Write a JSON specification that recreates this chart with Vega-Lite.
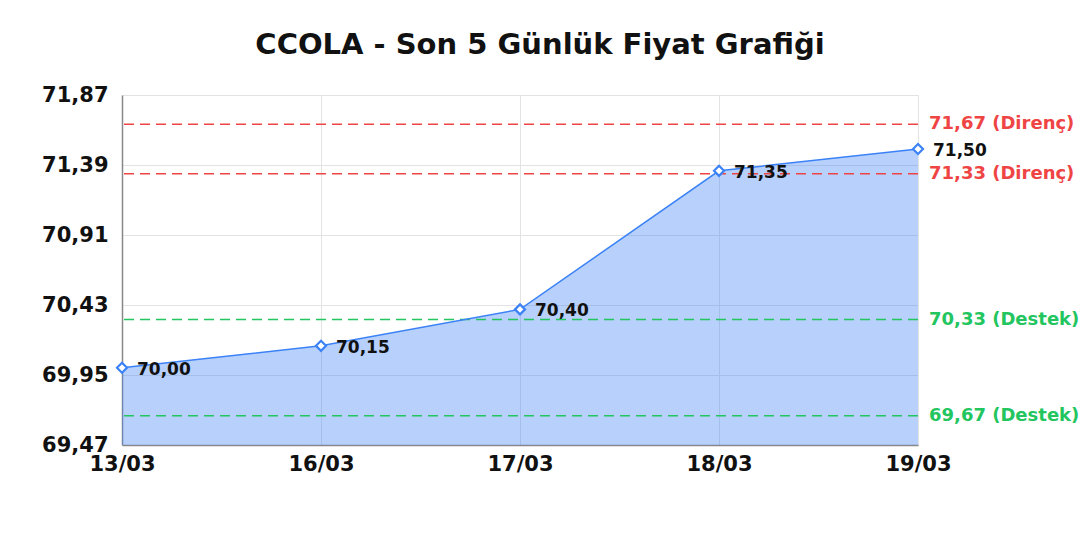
{
  "$schema": "https://vega.github.io/schema/vega-lite/v6.json",
  "description": "CCOLA - Son 5 Günlük Fiyat Grafiği",
  "width": 796,
  "height": 350,
  "autosize": {"type": "none"},
  "padding": {"left": 122, "top": 95, "right": 162, "bottom": 95},
  "background": "white",
  "config": {
    "font": "DejaVu Sans",
    "view": {"stroke": null},
    "axis": {
      "labelFont": "DejaVu Sans",
      "labelFontWeight": "bold",
      "labelFontSize": 21,
      "labelColor": "#111111",
      "domainColor": "#888888",
      "domainWidth": 1.5,
      "gridColor": "#e3e3e3",
      "ticks": false,
      "title": null
    }
  },
  "title": {
    "text": "CCOLA - Son 5 Günlük Fiyat Grafiği",
    "font": "DejaVu Sans",
    "fontSize": 29,
    "fontWeight": "bold",
    "color": "#111111",
    "anchor": "middle",
    "dx": 20,
    "offset": 24
  },
  "datasets": {
    "fiyat": [
      {"tarih": "13/03", "fiyat": 70.00, "etiket": "70,00"},
      {"tarih": "16/03", "fiyat": 70.15, "etiket": "70,15"},
      {"tarih": "17/03", "fiyat": 70.40, "etiket": "70,40"},
      {"tarih": "18/03", "fiyat": 71.35, "etiket": "71,35"},
      {"tarih": "19/03", "fiyat": 71.50, "etiket": "71,50"}
    ],
    "seviye": [
      {"tarih": "19/03", "deger": 71.67, "etiket": "71,67 (Direnç)", "tur": "Direnç"},
      {"tarih": "19/03", "deger": 71.33, "etiket": "71,33 (Direnç)", "tur": "Direnç"},
      {"tarih": "19/03", "deger": 70.33, "etiket": "70,33 (Destek)", "tur": "Destek"},
      {"tarih": "19/03", "deger": 69.67, "etiket": "69,67 (Destek)", "tur": "Destek"}
    ]
  },
  "layer": [
    {
      "data": {"name": "fiyat"},
      "mark": {"type": "area", "color": "#3b82f6", "opacity": 0.37},
      "encoding": {
        "x": {
          "field": "tarih",
          "type": "ordinal",
          "sort": null,
          "scale": {"type": "point", "padding": 0},
          "axis": {"labelAngle": 0, "grid": true, "labelPadding": 8}
        },
        "y": {
          "field": "fiyat",
          "type": "quantitative",
          "scale": {"domain": [69.47, 71.87], "nice": false, "zero": false},
          "axis": {
            "values": [69.47, 69.95, 70.43, 70.91, 71.39, 71.87],
            "labelExpr": "replace(format(datum.value, '.2f'), '.', ',')",
            "labelPadding": 14,
            "grid": true
          }
        },
        "y2": {"datum": 69.47}
      }
    },
    {
      "data": {"name": "seviye"},
      "mark": {"type": "rule", "strokeDash": [10, 6], "strokeWidth": 1.5},
      "encoding": {
        "y": {"field": "deger", "type": "quantitative"},
        "color": {
          "field": "tur",
          "type": "nominal",
          "scale": {"domain": ["Direnç", "Destek"], "range": ["#ef4444", "#22c55e"]},
          "legend": null
        }
      }
    },
    {
      "data": {"name": "seviye"},
      "mark": {"type": "text", "align": "left", "baseline": "middle", "dx": 11, "fontSize": 18, "fontWeight": "bold"},
      "encoding": {
        "x": {"field": "tarih", "type": "ordinal", "sort": null},
        "y": {"field": "deger", "type": "quantitative"},
        "text": {"field": "etiket"},
        "color": {"field": "tur", "type": "nominal", "legend": null}
      }
    },
    {
      "data": {"name": "fiyat"},
      "mark": {"type": "line", "color": "#3b82f6", "strokeWidth": 1.5},
      "encoding": {
        "x": {"field": "tarih", "type": "ordinal", "sort": null},
        "y": {"field": "fiyat", "type": "quantitative"}
      }
    },
    {
      "data": {"name": "fiyat"},
      "mark": {"type": "point", "shape": "diamond", "filled": true, "fill": "white", "stroke": "#3b82f6", "strokeWidth": 2.2, "size": 100, "opacity": 1},
      "encoding": {
        "x": {"field": "tarih", "type": "ordinal", "sort": null},
        "y": {"field": "fiyat", "type": "quantitative"}
      }
    },
    {
      "data": {"name": "fiyat"},
      "mark": {"type": "text", "align": "left", "baseline": "middle", "dx": 15, "dy": 2, "fontSize": 17, "fontWeight": "bold", "color": "#111111"},
      "encoding": {
        "x": {"field": "tarih", "type": "ordinal", "sort": null},
        "y": {"field": "fiyat", "type": "quantitative"},
        "text": {"field": "etiket"}
      }
    }
  ]
}
